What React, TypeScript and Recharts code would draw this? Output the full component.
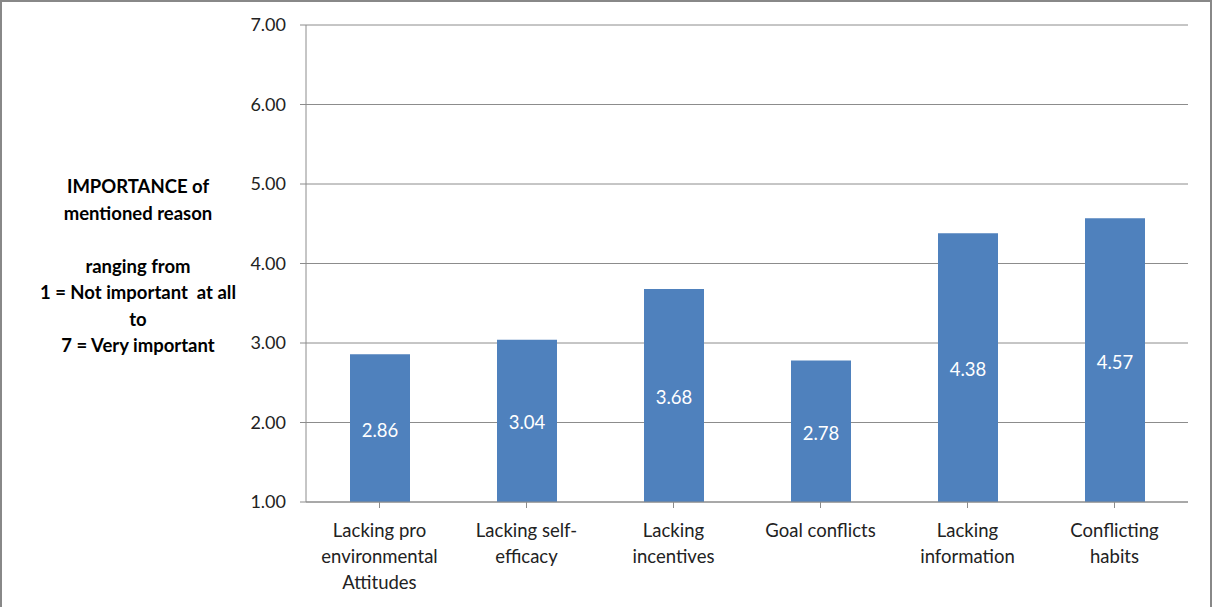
import React from "react";
import { BarChart, Bar, XAxis, YAxis, CartesianGrid, LabelList } from "recharts";

const categories = [
  "Lacking pro\nenvironmental\nAttitudes",
  "Lacking self-\nefficacy",
  "Lacking\nincentives",
  "Goal conflicts",
  "Lacking\ninformation",
  "Conflicting\nhabits",
];
const importance = [2.86, 3.04, 3.68, 2.78, 4.38, 4.57];
const yTicks = [1, 2, 3, 4, 5, 6, 7];
const titleLines = [
  "IMPORTANCE of",
  "mentioned reason",
  "",
  "ranging from",
  "1 = Not important  at all",
  "to",
  "7 = Very important",
];

const data = categories.map((c, i) => ({ category: c, value: importance[i] }));

const FONT = "Lato, 'Open Sans', sans-serif";

const CategoryTick = (props: any) => {
  const { x, y, payload } = props;
  const lines = String(payload.value).split("\n");
  return (
    <g>
      {lines.map((l: string, i: number) => (
        <text
          key={i}
          x={x}
          y={y + 27 + i * 26}
          textAnchor="middle"
          fontSize={18.5}
          fontFamily={FONT}
          fill="#222"
        >
          {l}
        </text>
      ))}
    </g>
  );
};

export default function App() {
  return (
    <div
      style={{
        position: "absolute",
        left: 0,
        top: 0,
        width: 1212,
        height: 607,
        background: "#fff",
        overflow: "hidden",
      }}
    >
      <div
        style={{
          position: "absolute",
          left: 0,
          top: 0,
          width: 1208,
          height: 620,
          border: "2px solid #888",
        }}
      />
      <BarChart
        width={1212}
        height={607}
        data={data}
        margin={{ top: 25, right: 24, bottom: 0, left: 0 }}
        barCategoryGap={0}
      >
        <CartesianGrid vertical={false} stroke="#8c8c8c" strokeWidth={1} />
        <XAxis
          dataKey="category"
          interval={0}
          tick={<CategoryTick />}
          tickLine={{ stroke: "#8c8c8c" }}
          axisLine={{ stroke: "#8c8c8c" }}
          tickSize={6}
          height={105}
        />
        <YAxis
          width={306}
          domain={[1, 7]}
          ticks={yTicks}
          tickFormatter={(v: number) => v.toFixed(2)}
          tick={{ fontSize: 18, fontFamily: FONT, fill: "#222" }}
          tickLine={{ stroke: "#8c8c8c" }}
          axisLine={{ stroke: "#8c8c8c" }}
          tickSize={6}
          tickMargin={14}
        />
        <Bar dataKey="value" fill="#4F81BD" barSize={60} isAnimationActive={false}>
          <LabelList
            dataKey="value"
            position="center"
            formatter={(v: number) => v.toFixed(2)}
            fill="#fff"
            fontSize={18.5}
            fontFamily={FONT}
            dy={2}
          />
        </Bar>
      </BarChart>
      <div
        style={{
          position: "absolute",
          left: 28,
          top: 173,
          width: 220,
          textAlign: "center",
          fontFamily: FONT,
          fontWeight: 700,
          fontSize: 18.5,
          lineHeight: "26.5px",
          color: "#000",
          whiteSpace: "pre",
        }}
      >
        {titleLines.map((l, i) => (
          <div key={i} style={{ height: 26.5 }}>
            {l || "\u00a0"}
          </div>
        ))}
      </div>
    </div>
  );
}
